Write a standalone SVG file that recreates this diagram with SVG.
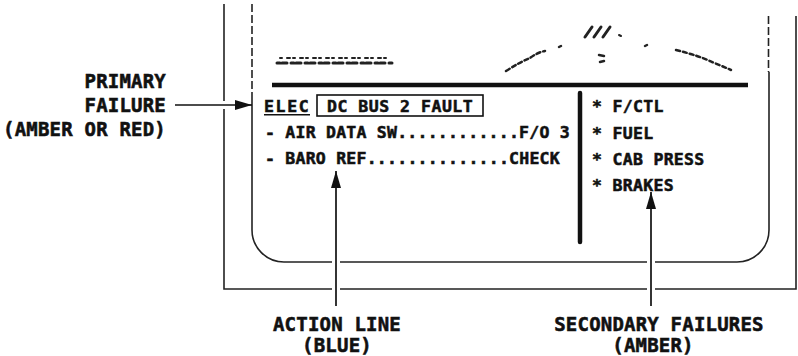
<svg xmlns="http://www.w3.org/2000/svg" width="798" height="356" viewBox="0 0 798 356">
  <style>
    .frame { fill: none; stroke: #222; stroke-width: 1.6; }
    .dash { fill: none; stroke: #222; stroke-width: 1.6; stroke-dasharray: 8 3; }
    .disp { font-family: "DejaVu Sans Mono", "Liberation Mono", monospace; font-weight: bold; font-size: 16.5px; letter-spacing: 0.3px; fill: #111; stroke: #111; stroke-width: 0.55px; }
    .lbl { font-family: "DejaVu Sans Mono", "Liberation Mono", monospace; font-weight: bold; font-size: 19px; letter-spacing: 0.2px; fill: #111; stroke: #111; stroke-width: 0.55px; }
    .conn { fill: none; stroke: #111; stroke-width: 1.7; }
    .art { fill: none; stroke: #222; stroke-linecap: round; }
  </style>
  <defs>
    <marker id="ah" markerUnits="userSpaceOnUse" markerWidth="18" markerHeight="10" refX="17" refY="5" orient="auto">
      <path d="M0,0 L17,5 L0,10 z" fill="#111"/>
    </marker>
  </defs>
  <rect width="798" height="356" fill="#fff"/>

  <g id="outer-frame">
    <path class="frame" d="M224,4 V101 M224,109 V289 H332 M340,289 H647 M655,289 H796 V16"/>
  </g>

  <g id="display">
    <path class="dash" d="M252,4 V96"/>
    <path class="frame" d="M252,96 V230 A32,32 0 0 0 284,262 H332 M340,262 H647 M655,262 H737 A32,32 0 0 0 769,230 V72"/>
    <path class="dash" d="M768.5,16 V72"/>
    <line x1="272" y1="85" x2="748" y2="85" stroke="#111" stroke-width="4.5"/>
    <line x1="580" y1="93" x2="580" y2="242" stroke="#111" stroke-width="4.5" stroke-linecap="round"/>
    <g id="artifacts">
      <path class="art" stroke-width="3" stroke-dasharray="3 2 5 4" d="M277,63 L392,63"/>
      <path class="art" stroke-width="2" stroke-dasharray="2 5 3 3" d="M280,58 L388,58"/>
      <path class="art" stroke-width="3" d="M585,37 L592,27 M594,37 L601,27 M603,37 L610,27"/>
      <path class="art" stroke-width="2" d="M619,35 L621,36"/>
      <path class="art" stroke-width="2.5" stroke-dasharray="4 3" d="M506,71 Q520,62 530,58 Q538,52 545,51"/>
      <path class="art" stroke-width="2.5" d="M559,47 L561,46 M645,46 L647,45"/>
      <path class="art" stroke-width="2.5" d="M599,55 L604,56 M600,62 L604,61"/>
      <path class="art" stroke-width="2.5" stroke-dasharray="4 3" d="M676,50 Q700,56 712,62 Q722,66 731,70"/>
    </g>
  </g>

  <g id="primary-failure">
    <text class="disp" x="264" y="111.5" textLength="45">ELEC</text>
    <line x1="264" y1="114.8" x2="310" y2="114.8" stroke="#111" stroke-width="1.5"/>
    <rect x="317" y="95" width="166" height="21" fill="none" stroke="#111" stroke-width="1.6"/>
    <text class="disp" x="327" y="111.5" textLength="146">DC BUS 2 FAULT</text>
  </g>

  <g id="action-lines">
    <text class="disp" x="265" y="137.5" textLength="305">- AIR DATA SW............F/O 3</text>
    <text class="disp" x="265" y="163.5" textLength="295">- BARO REF..............CHECK</text>
  </g>

  <g id="secondary-failures">
    <text class="disp" x="592" y="112">* F/CTL</text>
    <text class="disp" x="592" y="138.5">* FUEL</text>
    <text class="disp" x="592" y="164.5">* CAB PRESS</text>
    <text class="disp" x="592" y="190.5">* BRAKES</text>
  </g>

  <g id="label-primary">
    <text class="lbl" x="166" y="88" text-anchor="end">PRIMARY</text>
    <text class="lbl" x="166" y="112" text-anchor="end">FAILURE</text>
    <text class="lbl" x="166" y="136" text-anchor="end">(AMBER OR RED)</text>
  </g>
  <g id="label-action">
    <text class="lbl" x="337" y="331" text-anchor="middle">ACTION LINE</text>
    <text class="lbl" x="337" y="352" text-anchor="middle">(BLUE)</text>
  </g>
  <g id="label-secondary">
    <text class="lbl" x="659" y="331" text-anchor="middle">SECONDARY FAILURES</text>
    <text class="lbl" x="653" y="352" text-anchor="middle">(AMBER)</text>
  </g>

  <g id="connectors">
    <line class="conn" x1="175" y1="105" x2="252" y2="105" marker-end="url(#ah)"/>
    <line class="conn" x1="336" y1="306" x2="336" y2="171" marker-end="url(#ah)"/>
    <line class="conn" x1="651" y1="306" x2="651" y2="192" marker-end="url(#ah)"/>
  </g>
</svg>
